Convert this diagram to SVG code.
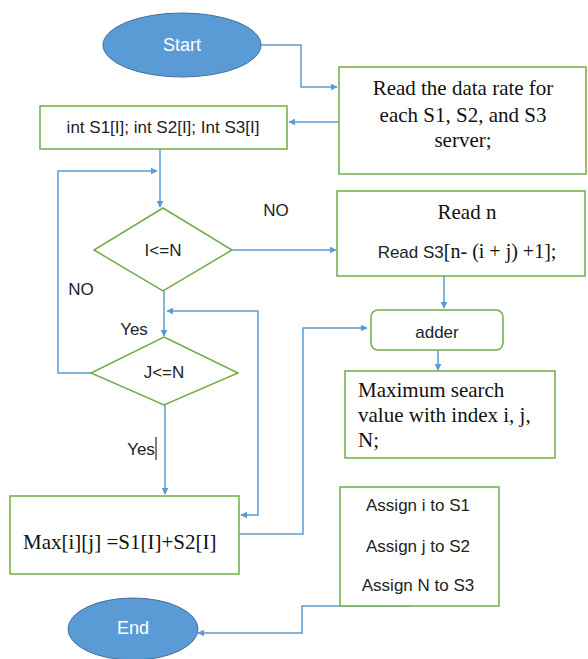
<svg xmlns="http://www.w3.org/2000/svg" width="588" height="659" viewBox="0 0 588 659">
<style>
.box{fill:#fff;stroke:#70AD47;stroke-width:1.5}
.term{fill:#5B9BD5;stroke:#41719C;stroke-width:1}
.ln{fill:none;stroke:#5B9BD5;stroke-width:1.5}
.s{font-family:"Liberation Sans",Arial,sans-serif;font-size:17px;fill:#222}
.t{font-family:"Liberation Serif","Times New Roman",serif;font-size:21px;fill:#111}
.w{font-family:"Liberation Sans",Arial,sans-serif;font-size:18px;fill:#fff}
</style>
<defs>
<marker id="ah" viewBox="0 0 10 10" refX="9" refY="5" markerWidth="7" markerHeight="7" markerUnits="userSpaceOnUse" orient="auto-start-reverse">
<path d="M0,0 L10,5 L0,10 z" fill="#5B9BD5"/>
</marker>
</defs>
<rect width="588" height="659" fill="#fff"/>
<g id="connectors">
<polyline class="ln" points="261,45 301,45 301,87 337,87" marker-end="url(#ah)"/>
<line class="ln" x1="339" y1="122" x2="289" y2="122" marker-end="url(#ah)"/>
<line class="ln" x1="160" y1="149" x2="160" y2="207" marker-end="url(#ah)"/>
<polyline class="ln" points="91,373 58,373 58,171 157,171" marker-end="url(#ah)"/>
<line class="ln" x1="232" y1="250" x2="336" y2="250" marker-end="url(#ah)"/>
<line class="ln" x1="444" y1="276" x2="444" y2="308" marker-end="url(#ah)"/>
<line class="ln" x1="438" y1="350" x2="438" y2="370" marker-end="url(#ah)"/>
<line class="ln" x1="164" y1="291" x2="164" y2="336" marker-end="url(#ah)"/>
<polyline class="ln" points="241,515 258,515 258,311 167,311" marker-start="url(#ah)" marker-end="url(#ah)"/>
<line class="ln" x1="165" y1="405" x2="165" y2="494" marker-end="url(#ah)"/>
<polyline class="ln" points="239,534 303,534 303,328 367,328" marker-end="url(#ah)"/>
<polyline class="ln" points="410,606 302,606 302,633 198,633" marker-end="url(#ah)"/>
</g>
<g id="start">
<ellipse class="term" cx="182" cy="45" rx="79" ry="32"/>
<text class="w" x="182" y="51" text-anchor="middle">Start</text>
</g>
<g id="read-data">
<rect class="box" x="339" y="67" width="247" height="107"/>
<text class="t" x="463" y="95" text-anchor="middle">Read the data rate for</text>
<text class="t" x="463" y="122" text-anchor="middle">each S1, S2, and S3</text>
<text class="t" x="463" y="147" text-anchor="middle">server;</text>
</g>
<g id="int-decl">
<rect class="box" x="40" y="106" width="247" height="43"/>
<text class="s" x="163" y="133" text-anchor="middle">int S1[I]; int S2[I]; Int S3[I]</text>
</g>
<g id="cond-i">
<polygon class="box" points="163,208 232,250 163,291 94,250"/>
<text class="s" x="163" y="256" text-anchor="middle">I&lt;=N</text>
</g>
<text class="s" x="276" y="216" text-anchor="middle">NO</text>
<text class="s" x="81" y="295" text-anchor="middle">NO</text>
<text class="s" x="134" y="335" text-anchor="middle">Yes</text>
<g id="read-n">
<rect class="box" x="337" y="191" width="248" height="85"/>
<text class="t" x="467" y="219" text-anchor="middle">Read n</text>
<text x="467" y="258" text-anchor="middle"><tspan class="s">Read S3</tspan><tspan class="t" style="font-size:20px">[n- (i + j) +1];</tspan></text>
</g>
<g id="adder">
<rect class="box" x="371" y="310" width="132" height="40" rx="7"/>
<text class="s" x="437" y="338" text-anchor="middle">adder</text>
</g>
<g id="max-search">
<rect class="box" x="345" y="371" width="210" height="87"/>
<text class="t" x="358" y="397">Maximum search</text>
<text class="t" x="358" y="422">value with index i, j,</text>
<text class="t" x="358" y="447">N;</text>
</g>
<g id="cond-j">
<polygon class="box" points="164,337 238,373 164,405 91,373"/>
<text class="s" x="164" y="378" text-anchor="middle">J&lt;=N</text>
</g>
<text class="s" x="141" y="455" text-anchor="middle">Yes</text>
<line x1="156" y1="437" x2="156" y2="460" stroke="#000" stroke-width="1"/>
<g id="max-calc">
<rect class="box" x="10" y="496" width="229" height="78"/>
<text class="t" x="23" y="549">Max[i][j] =S1[I]+S2[I]</text>
</g>
<g id="assign">
<rect class="box" x="340" y="487" width="159" height="119"/>
<text class="s" x="418" y="511" text-anchor="middle">Assign i to S1</text>
<text class="s" x="418" y="552" text-anchor="middle">Assign j to S2</text>
<text class="s" x="418" y="591" text-anchor="middle">Assign N to S3</text>
</g>
<g id="end">
<ellipse class="term" cx="133" cy="629" rx="65" ry="31"/>
<text class="w" x="133" y="634" text-anchor="middle">End</text>
</g>
</svg>
